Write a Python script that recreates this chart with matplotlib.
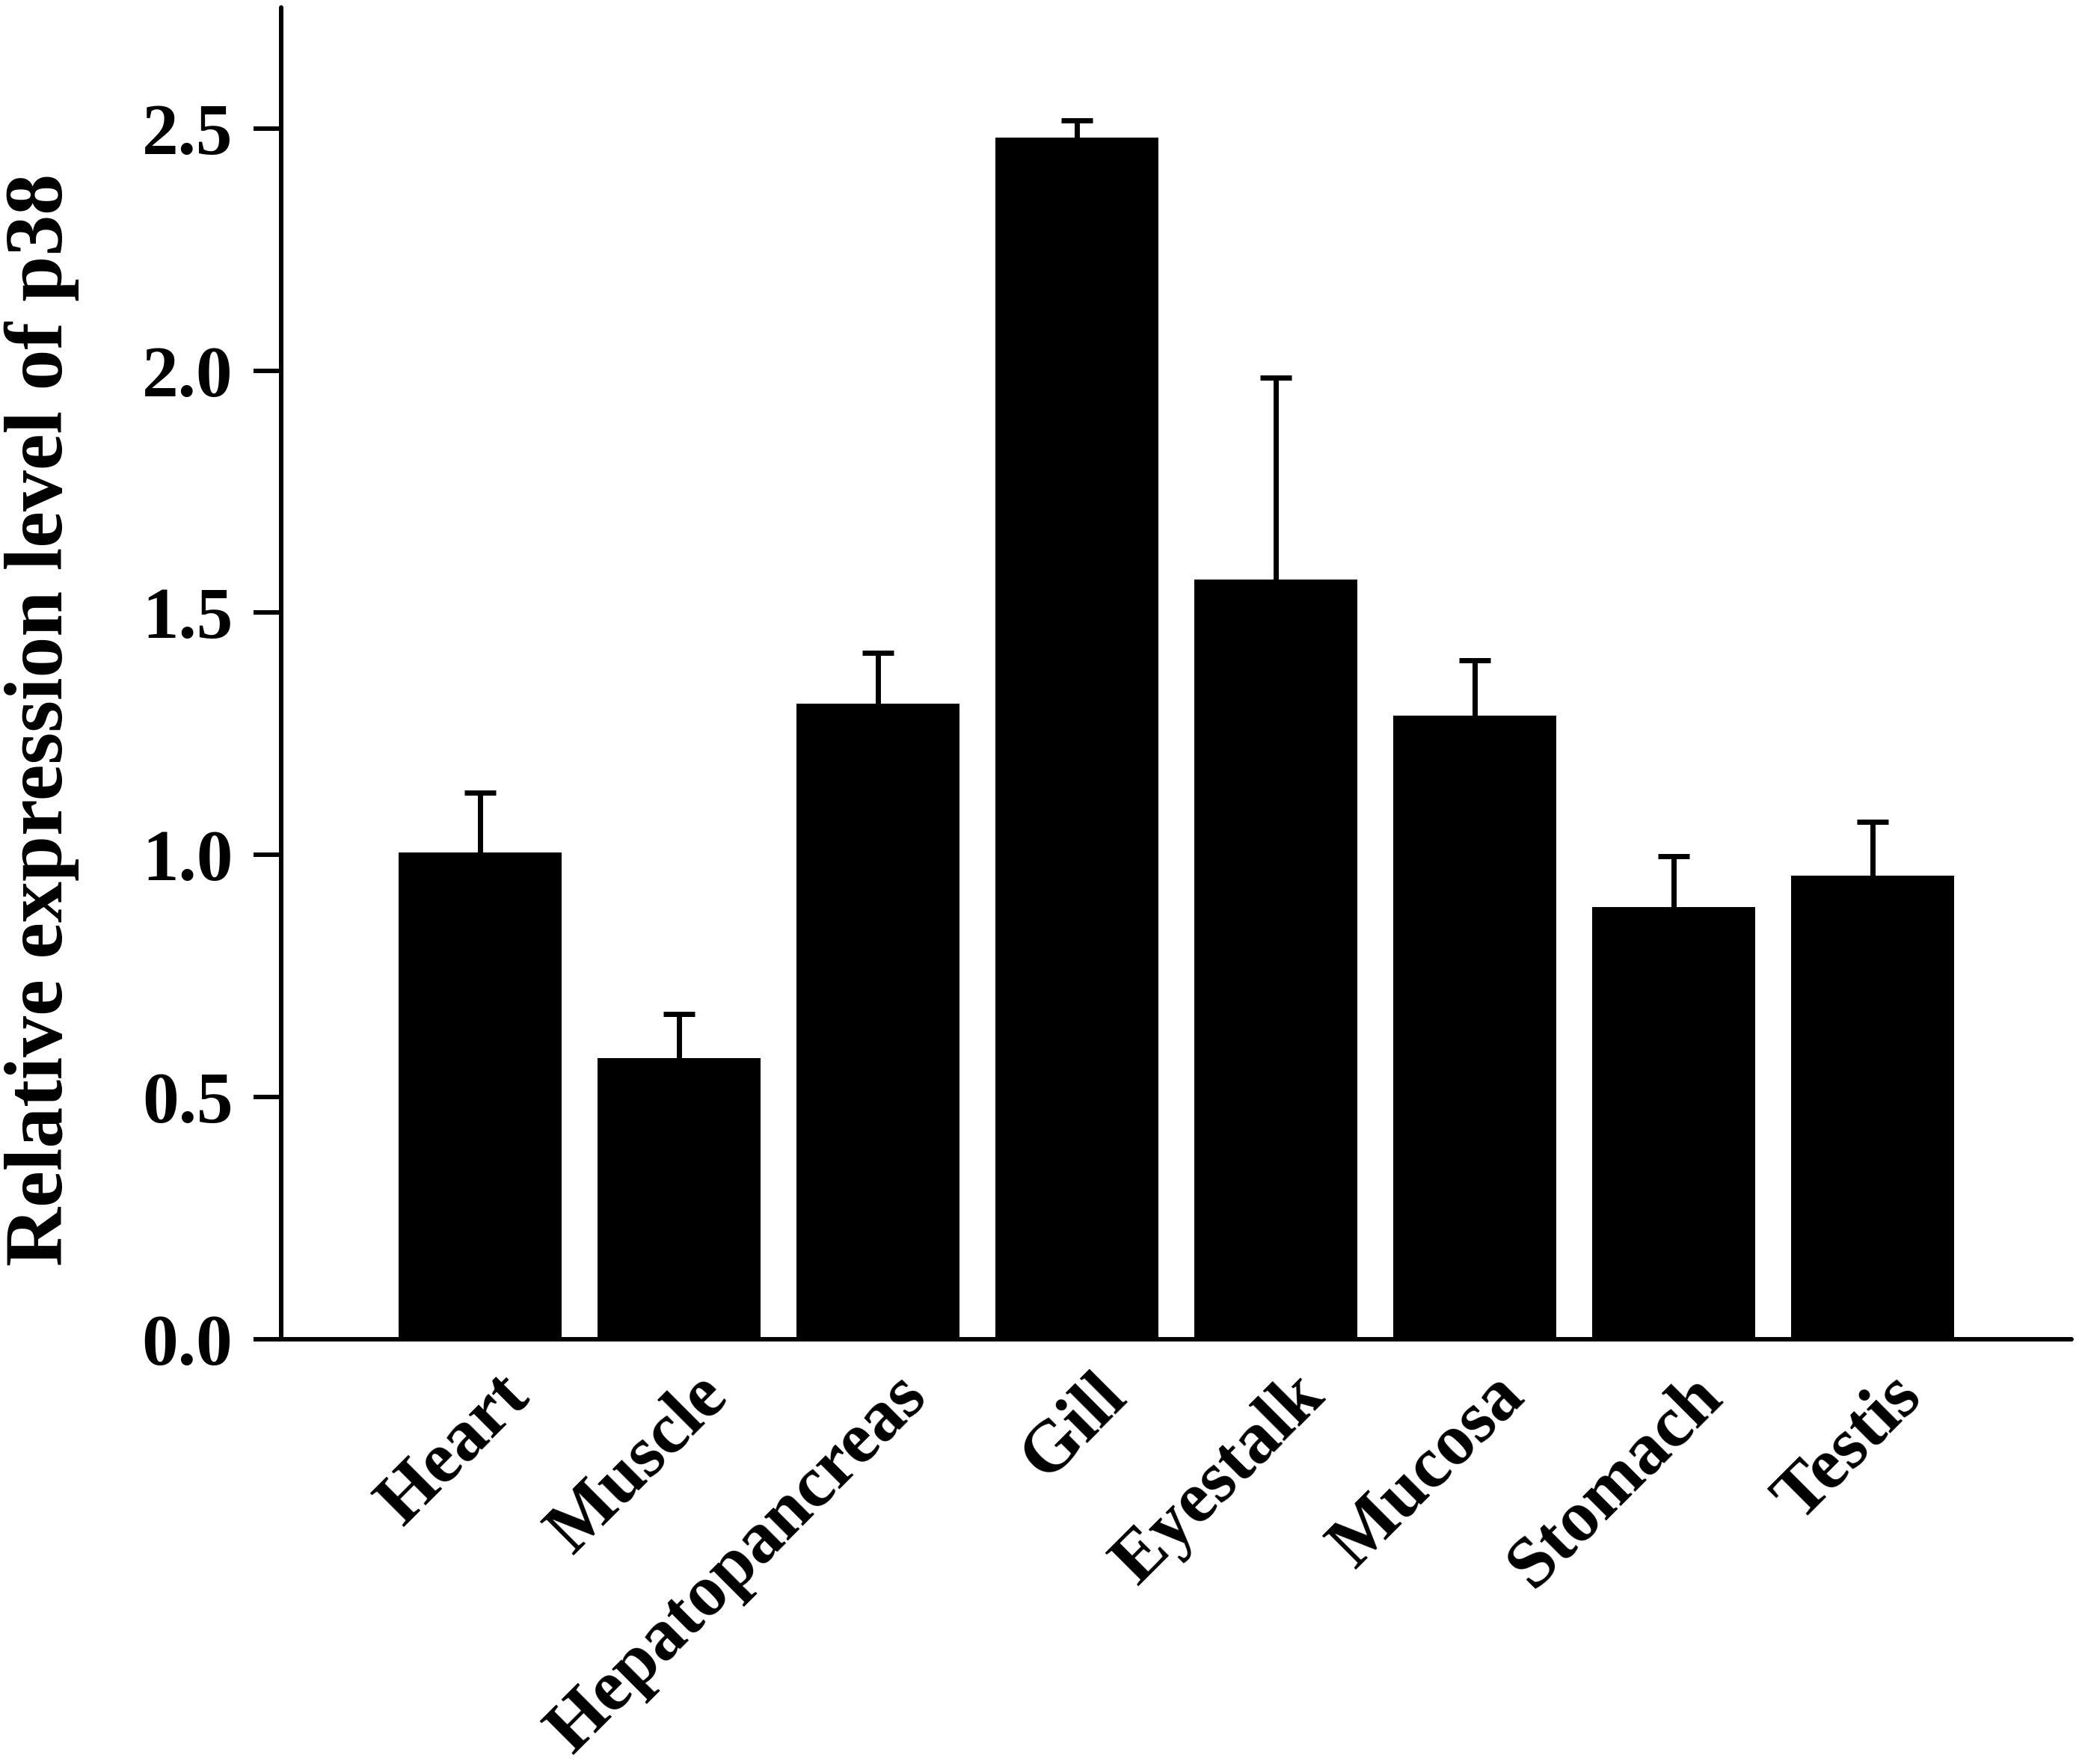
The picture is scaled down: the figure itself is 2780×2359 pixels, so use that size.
import matplotlib
matplotlib.use("Agg")
import matplotlib.pyplot as plt
import matplotlib.transforms as mtransforms
import numpy as np

categories = ["Heart", "Muscle", "Hepatopancreas", "Gill", "Eyestalk", "Mucosa", "Stomach", "Testis"]
values = [1.005, 0.580, 1.312, 2.481, 1.569, 1.287, 0.893, 0.958]
errors = [0.123, 0.091, 0.106, 0.035, 0.416, 0.115, 0.104, 0.110]
yticks = [0.0, 0.5, 1.0, 1.5, 2.0, 2.5]
ylabel = "Relative expression level of p38"

plt.rcParams['font.family'] = ['Liberation Serif', 'DejaVu Serif']
plt.rcParams['font.weight'] = 'bold'

fig = plt.figure(figsize=(27.8, 23.59), dpi=100)
ax = fig.add_axes([0.1353, 0.2408, 0.9964 - 0.1353, 0.9958 - 0.2408])

x = np.arange(len(categories))
ax.bar(x, values, width=0.82, color='black', edgecolor='none', zorder=3)
eb = ax.errorbar(x, values, yerr=[np.zeros(len(errors)), errors], fmt='none',
                 ecolor='black', elinewidth=5, capsize=15, capthick=5, zorder=2)
caplines = eb[1]
if len(caplines) >= 2:
    caplines[0].set_visible(False)

ax.set_xlim(-1, 8)
ax.set_ylim(0, 2.75)
ax.set_yticks(yticks)
ax.set_yticklabels([f"{v:.1f}" for v in yticks], fontsize=70, fontweight='bold')

ax.spines['top'].set_visible(False)
ax.spines['right'].set_visible(False)
for s in ['left', 'bottom']:
    ax.spines[s].set_linewidth(4.3)
    ax.spines[s].set_capstyle('round')

ax.tick_params(axis='y', direction='out', length=26.6, width=4.3, pad=20)
ax.tick_params(axis='x', length=0, pad=57)

ax.set_xticks(x)
ax.set_xticklabels(categories, fontsize=70, fontweight='bold', rotation=45,
                   ha='right', va='baseline', rotation_mode='anchor')
offset = mtransforms.ScaledTranslation(49 / 72, 0, fig.dpi_scale_trans)
for lbl in ax.get_xticklabels():
    lbl.set_transform(lbl.get_transform() + offset)

ax.set_ylabel(ylabel, fontsize=79, fontweight='bold')
ax.yaxis.set_label_coords(-0.113, 0.465)

fig.savefig("out.png", dpi=100, facecolor='white')
